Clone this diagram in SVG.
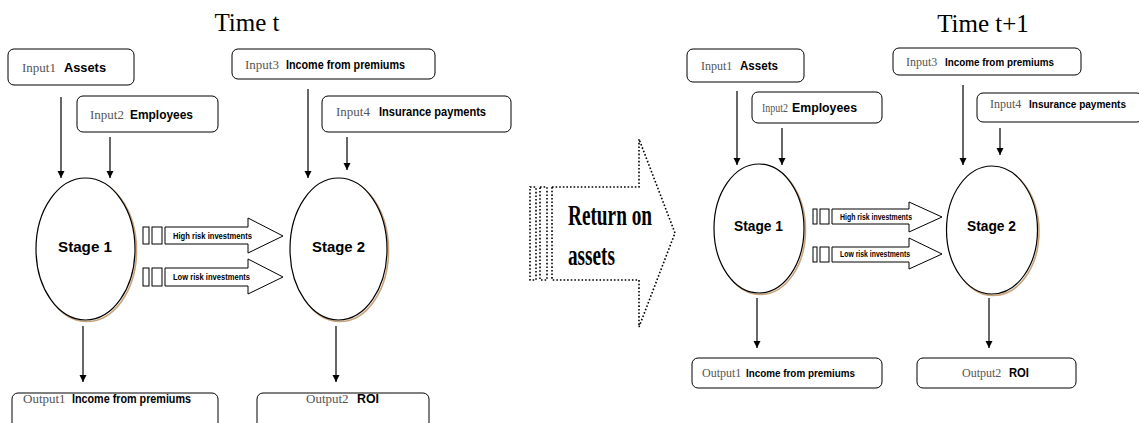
<svg xmlns="http://www.w3.org/2000/svg" width="1139" height="423" viewBox="0 0 1139 423">
<defs>
<marker id="ah" markerUnits="userSpaceOnUse" markerWidth="8" markerHeight="8" refX="7" refY="3.5" orient="auto"><path d="M0,0 L7,3.5 L0,7 z" fill="#000"/></marker>
<style>
.box{fill:#fff;stroke:#000;stroke-width:1}
.ell{fill:#fff;stroke:#000;stroke-width:1.2}
.shd{fill:none;stroke:#c9a37a;stroke-width:1.6}
.ln{stroke:#000;stroke-width:1.2;fill:none}
.blk{fill:#fff;stroke:#000;stroke-width:1}
.dot{fill:none;stroke:#000;stroke-width:1.6;stroke-dasharray:1.6 2}
.title{font-family:"Liberation Serif",serif;font-size:25px;fill:#000}
.pre{font-family:"Liberation Serif",serif;fill:#555}
.b{font-family:"Liberation Sans",Arial,sans-serif;font-weight:bold;fill:#000}
.stg{font-family:"Liberation Sans",Arial,sans-serif;font-weight:bold;font-size:15px;fill:#000}
.inv{font-family:"Liberation Sans",Arial,sans-serif;font-weight:bold;font-size:9px;fill:#000}
.ret{font-family:"Liberation Serif",serif;font-weight:bold;font-size:29px;fill:#000}
</style>
</defs>
<rect width="1139" height="423" fill="#fff"/>

<text class="title" x="247" y="31" text-anchor="middle">Time t</text>
<text class="title" x="983" y="32" text-anchor="middle">Time t+1</text>

<!-- connectors -->
<g id="connectors">
<line class="ln" x1="61" y1="97" x2="61" y2="178" marker-end="url(#ah)"/>
<line class="ln" x1="110" y1="137" x2="110" y2="178" marker-end="url(#ah)"/>
<line class="ln" x1="308" y1="89" x2="308" y2="178" marker-end="url(#ah)"/>
<line class="ln" x1="347" y1="137" x2="347" y2="170" marker-end="url(#ah)"/>
<line class="ln" x1="83" y1="326" x2="83" y2="382" marker-end="url(#ah)"/>
<line class="ln" x1="336" y1="326" x2="336" y2="382" marker-end="url(#ah)"/>
<line class="ln" x1="737" y1="91" x2="737" y2="165" marker-end="url(#ah)"/>
<line class="ln" x1="782" y1="128" x2="782" y2="165" marker-end="url(#ah)"/>
<line class="ln" x1="963" y1="85" x2="963" y2="165" marker-end="url(#ah)"/>
<line class="ln" x1="1000" y1="128" x2="1000" y2="155" marker-end="url(#ah)"/>
<line class="ln" x1="757" y1="298" x2="757" y2="348" marker-end="url(#ah)"/>
<line class="ln" x1="989" y1="298" x2="989" y2="348" marker-end="url(#ah)"/>
<!-- block arrows left -->
<g id="high-left">
<rect class="blk" x="143" y="227" width="6" height="17"/>
<rect class="blk" x="152" y="227" width="10" height="17"/>
<polygon class="blk" points="165,227 248,227 248,218 283,236 248,253 248,244 165,244"/>
<text class="inv" x="173" y="239" textLength="79" lengthAdjust="spacingAndGlyphs">High risk investments</text>
</g>
<g id="low-left">
<rect class="blk" x="143" y="268" width="6" height="18"/>
<rect class="blk" x="152" y="268" width="10" height="18"/>
<polygon class="blk" points="165,268 248,268 248,259 283,277 248,294 248,286 165,286"/>
<text class="inv" x="173" y="280" textLength="77" lengthAdjust="spacingAndGlyphs">Low risk investments</text>
</g>
<!-- block arrows right -->
<g id="high-right">
<rect class="blk" x="813" y="209" width="4" height="15"/>
<rect class="blk" x="820" y="209" width="9" height="15"/>
<polygon class="blk" points="832,209 909,209 909,202 942,217 909,232 909,224 832,224"/>
<text class="inv" x="840" y="220" font-size="8.5" textLength="72" lengthAdjust="spacingAndGlyphs">High risk investments</text>
</g>
<g id="low-right">
<rect class="blk" x="813" y="247" width="4" height="15"/>
<rect class="blk" x="820" y="247" width="9" height="15"/>
<polygon class="blk" points="832,247 909,247 909,238 942,254 909,269 909,262 832,262"/>
<text class="inv" x="840" y="257" font-size="8.5" textLength="70" lengthAdjust="spacingAndGlyphs">Low risk investments</text>
</g>
</g>

<!-- Return on assets -->
<g id="return">
<rect class="dot" x="530" y="187" width="6" height="93"/>
<rect class="dot" x="540" y="187" width="7" height="93"/>
<polygon class="dot" points="552,187 639,187 639,139 675,233 639,327 639,280 552,280"/>
<text class="ret" x="568" y="225" textLength="84" lengthAdjust="spacingAndGlyphs">Return on</text>
<text class="ret" x="568" y="265" textLength="47" lengthAdjust="spacingAndGlyphs">assets</text>
</g>

<!-- left nodes -->
<g id="in1-left">
<rect class="box" x="8" y="49" width="126" height="36" rx="6"/>
<text class="pre" x="22" y="72" font-size="13">Input1</text>
<text class="b" x="64" y="72" font-size="13" textLength="42" lengthAdjust="spacingAndGlyphs">Assets</text>
</g>
<g id="in2-left">
<rect class="box" x="77" y="96" width="141" height="36" rx="6"/>
<text class="pre" x="90" y="119" font-size="13">Input2</text>
<text class="b" x="130" y="119" font-size="13" textLength="63" lengthAdjust="spacingAndGlyphs">Employees</text>
</g>
<g id="in3-left">
<rect class="box" x="232" y="49" width="203" height="30" rx="6"/>
<text class="pre" x="245" y="69" font-size="13">Input3</text>
<text class="b" x="286" y="69" font-size="12.5" textLength="119" lengthAdjust="spacingAndGlyphs">Income from premiums</text>
</g>
<g id="in4-left">
<rect class="box" x="322" y="96" width="189" height="36" rx="6"/>
<text class="pre" x="336" y="116" font-size="13">Input4</text>
<text class="b" x="379" y="116" font-size="12" textLength="107" lengthAdjust="spacingAndGlyphs">Insurance payments</text>
</g>
<g id="stage1-left">
<ellipse class="shd" cx="87" cy="250.5" rx="49.5" ry="71"/>
<ellipse class="ell" cx="85.5" cy="249" rx="49.5" ry="71"/>
<text class="stg" x="58" y="252" textLength="54" lengthAdjust="spacingAndGlyphs">Stage  1</text>
</g>
<g id="stage2-left">
<ellipse class="shd" cx="340" cy="250.5" rx="48.5" ry="71"/>
<ellipse class="ell" cx="338.5" cy="249" rx="48.5" ry="71"/>
<text class="stg" x="312" y="252" textLength="53" lengthAdjust="spacingAndGlyphs">Stage  2</text>
</g>
<g id="out1-left">
<rect class="box" x="12" y="393" width="206" height="40" rx="6"/>
<text class="pre" x="23" y="403" font-size="13">Output1</text>
<text class="b" x="72" y="403" font-size="12.5" textLength="119" lengthAdjust="spacingAndGlyphs">Income from premiums</text>
</g>
<g id="out2-left">
<rect class="box" x="257" y="393" width="172" height="40" rx="6"/>
<text class="pre" x="306" y="403" font-size="13">Output2</text>
<text class="b" x="357" y="403" font-size="13" textLength="22" lengthAdjust="spacingAndGlyphs">ROI</text>
</g>

<!-- right nodes -->
<g id="in1-right">
<rect class="box" x="687" y="49" width="117" height="33" rx="6"/>
<text class="pre" x="701" y="70" font-size="12">Input1</text>
<text class="b" x="740" y="70" font-size="12" textLength="38" lengthAdjust="spacingAndGlyphs">Assets</text>
</g>
<g id="in2-right">
<rect class="box" x="752" y="92" width="130" height="31" rx="6"/>
<text class="pre" x="762" y="112" font-size="12" textLength="26" lengthAdjust="spacingAndGlyphs">Input2</text>
<text class="b" x="792" y="112" font-size="12" textLength="65" lengthAdjust="spacingAndGlyphs">Employees</text>
</g>
<g id="in3-right">
<rect class="box" x="893" y="48" width="188" height="27" rx="6"/>
<text class="pre" x="906" y="66" font-size="12">Input3</text>
<text class="b" x="945" y="66" font-size="11.5" textLength="109" lengthAdjust="spacingAndGlyphs">Income from premiums</text>
</g>
<g id="in4-right">
<rect class="box" x="977" y="93" width="166" height="29" rx="6"/>
<text class="pre" x="990" y="108" font-size="12">Input4</text>
<text class="b" x="1029" y="108" font-size="11.5" textLength="97" lengthAdjust="spacingAndGlyphs">Insurance payments</text>
</g>
<g id="stage1-right">
<ellipse class="shd" cx="760.5" cy="230" rx="45" ry="64.5"/>
<ellipse class="ell" cx="759" cy="228.5" rx="45" ry="64.5"/>
<text class="stg" x="734" y="231" font-size="14" textLength="49" lengthAdjust="spacingAndGlyphs">Stage  1</text>
</g>
<g id="stage2-right">
<ellipse class="shd" cx="993.5" cy="231.5" rx="45.5" ry="64"/>
<ellipse class="ell" cx="992" cy="230" rx="45.5" ry="64"/>
<text class="stg" x="967" y="231" font-size="14" textLength="49" lengthAdjust="spacingAndGlyphs">Stage  2</text>
</g>
<g id="out1-right">
<rect class="box" x="692" y="358" width="190" height="30" rx="6"/>
<text class="pre" x="702" y="377" font-size="12">Output1</text>
<text class="b" x="746" y="377" font-size="11.5" textLength="109" lengthAdjust="spacingAndGlyphs">Income from premiums</text>
</g>
<g id="out2-right">
<rect class="box" x="917" y="358" width="159" height="30" rx="6"/>
<text class="pre" x="962" y="377" font-size="12">Output2</text>
<text class="b" x="1009" y="377" font-size="12" textLength="20" lengthAdjust="spacingAndGlyphs">ROI</text>
</g>
</svg>
